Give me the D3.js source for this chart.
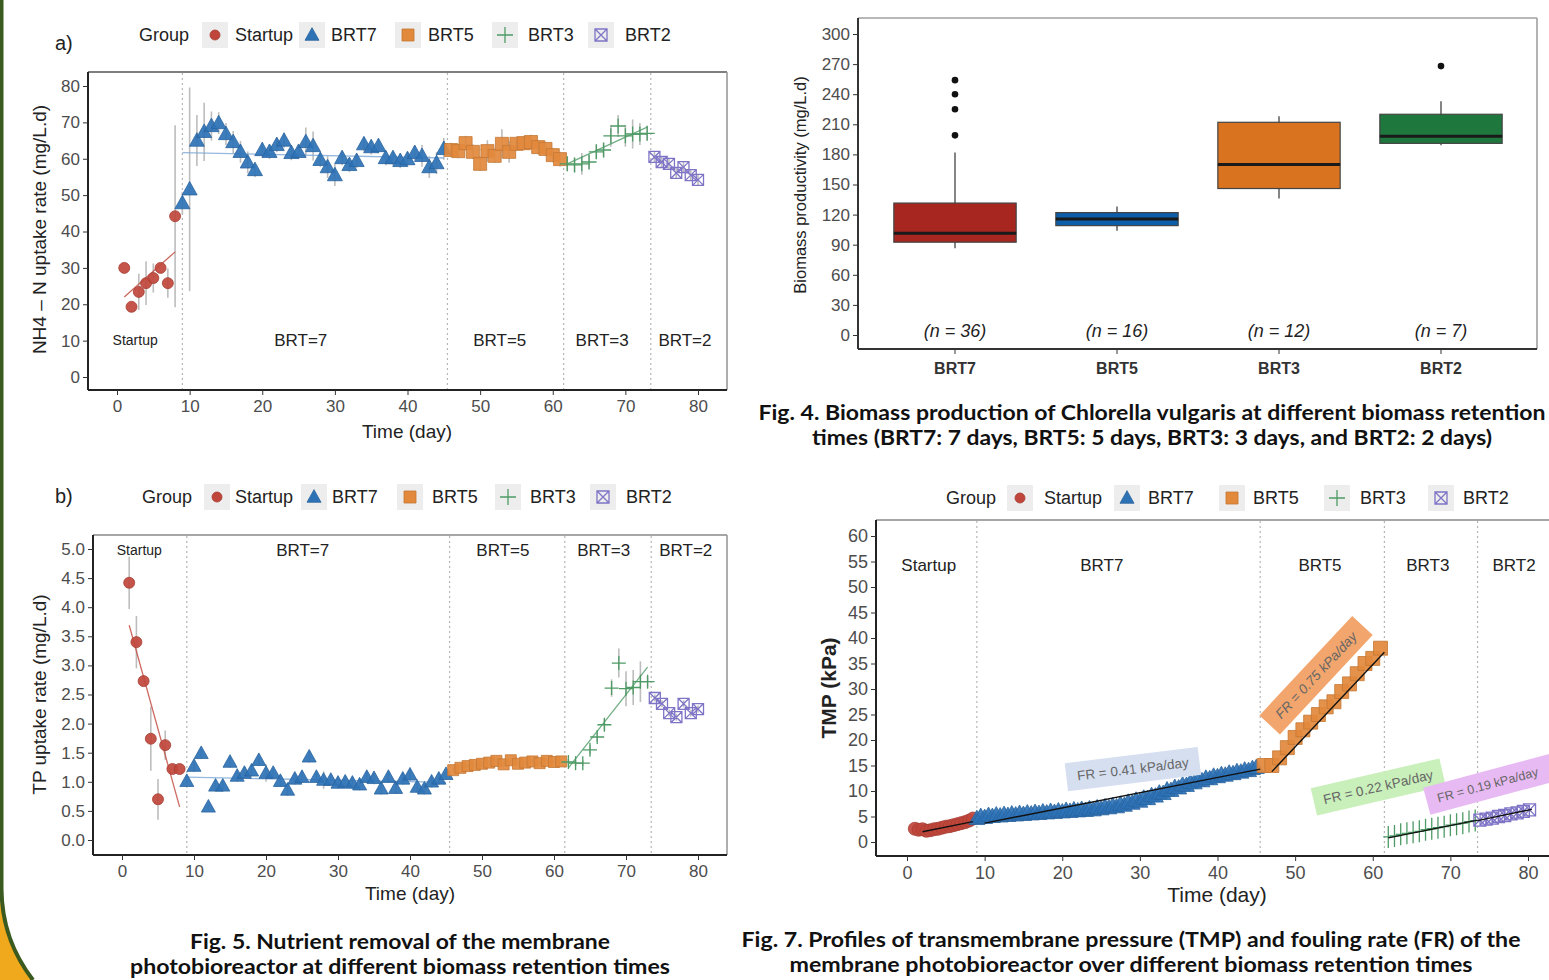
<!DOCTYPE html>
<html><head><meta charset="utf-8">
<script src="https://cdn.jsdelivr.net/npm/d3@7"></script>
<style>body{margin:0;background:#fff}svg{display:block}</style>
</head><body><svg id="c" width="1549" height="980"></svg>
<script>
// ---------------- DATA ----------------
const groups = ["Startup","BRT7","BRT5","BRT3","BRT2"];
const groupColors = ["#c0463b","#2e72b6","#e2893c","#4e9b66","#7e74c6"];
const groupShapes = ["circle","triangle","square","plus","boxx"];
const xTicks = [0,10,20,30,40,50,60,70,80];
const phaseBounds = [9,45.5,61.5,73.5];

// Panel a: NH4-N uptake rate
const aStartDay = [1,2,3,4,5,6,7,8];
const aStartVal = [30,19.3,23.4,25.8,27.2,30,25.8,44.2];
const aStartErr = [0,0,5,6,4,0,4,25];
const aB7Day = [9,10,11,12,13,14,15,16,17,18,19,20,21,22,23,24,25,26,27,28,29,30,31,32,33,34,35,36,37,38,39,40,41,42,43,44,45];
const aB7Val = [47.8,51.6,65,67.4,69,69.8,66.8,64.6,61.9,59,56.9,62.4,61.9,63.8,65,61.6,61.9,64.6,63.5,59.7,57.7,55.5,60.2,58.3,59.4,64,63.2,63.5,60.2,60.2,59.4,59.9,61.6,60.8,57.7,58.8,62.7];
const aB7Err = [3,28,7,8,4,3,3,3,3,3,2,2,2,2,2,2,2,4,4,2,3,3,2,2,2,2,2,2,2,2,2,2,2,3,3,3,3];
const aB5Day = [46,47,48,49,50,51,52,53,54,55,56,57,58,59,60,61];
const aB5Val = [62.4,62.1,64.3,61.9,58.6,62.1,60.8,64.1,61.9,64.1,64.3,64.6,63.2,62.7,61,59.9];
const aB5Err = [2,2,2,2,2,3,2,4,3,2,2,2,2,2,2,2];
const aB3Day = [62,63,64,65,66,67,68,69,70,71,72,73];
const aB3Val = [58.6,58.3,58.6,59.1,61.9,62.4,66.3,69,66.3,66.8,66.8,67];
const aB3Err = [2,2,3,2,2,2,3,3,3,4,3,2];
const aB2Day = [74,75,76,77,78,79,80];
const aB2Val = [60.5,59.1,58.6,56.1,57.7,55.5,54.2];
const aB2Err = [1.5,1.5,1.5,1.5,1.5,1.5,1.5];
const aFitStart = [[1,22],[8,34.4]];
const aFitB7 = [[9,61.7],[45,60.2]];
const aFitB5 = [[46,62.5],[61,62.5]];
const aFitB3 = [[62,58.6],[73,68.7]];
const aFitB2 = [[74,60.2],[80,54.6]];
const aYTicks = [0,10,20,30,40,50,60,70,80];

// Panel b: TP uptake rate
const bStartDay = [1,2,3,4,5,6,7,8];
const bStartVal = [4.42,3.40,2.73,1.74,0.70,1.63,1.22,1.22];
const bStartErr = [0.45,0.45,0,0.55,0.35,0.25,0,0];
const bB7Day = aB7Day;
const bB7Val = [1.01,1.27,1.49,0.57,0.93,0.93,1.34,1.10,1.15,1.19,1.37,1.15,1.15,1.01,0.86,1.05,1.08,1.43,1.08,1.03,1.03,0.98,1.00,0.98,0.95,1.08,1.06,0.88,1.08,0.89,1.05,1.12,0.91,0.88,1.00,1.05,1.13];
const bB7Err = [0.05,0.1,0.1,0.05,0.1,0.1,0.1,0.1,0.1,0.1,0.1,0.15,0.1,0.1,0.1,0.1,0.1,0.1,0.1,0.15,0.1,0.1,0.1,0.1,0.1,0.1,0.1,0.1,0.1,0.1,0.1,0.1,0.1,0.1,0.1,0.1,0.05];
const bB5Day = aB5Day;
const bB5Val = [1.20,1.24,1.27,1.29,1.31,1.33,1.36,1.30,1.37,1.31,1.33,1.35,1.32,1.36,1.34,1.35];
const bB5Err = [0.04,0.04,0.04,0.04,0.05,0.05,0.06,0.05,0.05,0.04,0.04,0.04,0.04,0.04,0.04,0.04];
const bB3Day = aB3Day;
const bB3Val = [1.34,1.32,1.32,1.55,1.77,1.98,2.61,3.04,2.60,2.62,2.72,2.72];
const bB3Err = [0.05,0.05,0.05,0.08,0.08,0.1,0.15,0.25,0.3,0.3,0.35,0.1];
const bB2Day = aB2Day;
const bB2Val = [2.44,2.34,2.18,2.11,2.34,2.18,2.25];
const bB2Err = [0.06,0.06,0.06,0.06,0.06,0.06,0.06];
const bFitStart = [[1,3.69],[8,0.57]];
const bFitB7 = [[9,1.08],[45,0.99]];
const bFitB5 = [[46,1.24],[61,1.36]];
const bFitB3 = [[62,1.24],[73,2.97]];
const bYTicks = [0,0.5,1,1.5,2,2.5,3,3.5,4,4.5,5];

// Fig 4: biomass productivity box plot
const boxCats = ["BRT7","BRT5","BRT3","BRT2"];
const boxLow = [86.5,104,136,189];
const boxQ1 = [92.5,109,146,191];
const boxMed = [101.5,115.5,170,198];
const boxQ3 = [131.5,122,212,220];
const boxHigh = [182,128,218,233];
const boxN = [36,16,12,7];
const boxOutliers = [[199,225,240,254],[],[],[268]];
const boxFill = ["#a72720","#0d5ea9","#d9731f","#1e773d"];
const boxYTicks = [0,30,60,90,120,150,180,210,240,270,300];

// Fig 7: TMP
const tStartDay = [1,1.5,2,2.5,3,3.5,4,4.5,5,5.5,6,6.5,7,7.5,8,8.5];
const tStartVal = [2.6,2.4,2.5,2.2,2.3,2.5,2.6,2.8,3.0,3.1,3.3,3.5,3.7,3.9,4.2,4.6];
const tB7Day = [9,9.5,10,10.5,11,11.5,12,12.5,13,13.5,14,14.5,15,15.5,16,16.5,17,17.5,18,18.5,19,19.5,20,20.5,21,21.5,22,22.5,23,23.5,24,24.5,25,25.5,26,26.5,27,27.5,28,28.5,29,29.5,30,30.5,31,31.5,32,32.5,33,33.5,34,34.5,35,35.5,36,36.5,37,37.5,38,38.5,39,39.5,40,40.5,41,41.5,42,42.5,43,43.5,44,44.5,45];
const tB7Val = [4.6,5.0,4.8,5.2,5.0,5.3,5.1,5.4,5.2,5.5,5.3,5.6,5.4,5.7,5.5,5.8,5.6,5.9,5.7,6.0,5.8,6.1,5.9,6.2,6.0,6.3,6.1,6.4,6.2,6.5,6.3,6.7,6.5,6.9,6.7,7.1,6.9,7.4,7.2,7.8,7.6,8.2,8.0,8.6,8.5,9.1,9.0,9.6,9.5,10.2,10.1,10.7,10.6,11.2,11.1,11.7,11.6,12.1,12.0,12.5,12.4,12.9,12.8,13.2,13.1,13.5,13.4,13.8,13.7,14.1,14.0,14.4,14.6];
const tB5Day = [46,47,48,49,50,51,52,53,54,55,56,57,58,59,60,61];
const tB5Val = [15,15,16.5,18.5,20.5,22,23.5,25,26.5,27.5,29.5,31,33,35,36,38];
const tB3Day = [62,62.8,63.6,64.4,65.2,66,66.8,67.6,68.4,69.2,70,70.8,71.6,72.4,73.2];
const tB3Val = [1.0,1.2,1.5,1.7,1.9,2.1,2.4,2.6,2.8,3.0,3.3,3.5,3.7,4.0,4.2];
const tB2Day = [73.8,74.6,75.4,76.2,77,77.8,78.6,79.4,80.2];
const tB2Val = [4.3,4.5,4.7,5.0,5.2,5.5,5.7,6.0,6.3];
const tFitStart = [[2,2.0],[8.5,4.0]];
const tFitB7 = [[10,3.7],[45.5,14.3]];
const tFitB5 = [[47,13.8],[61.5,37.2]];
const tFitB3 = [[62,0.8],[73.5,4.3]];
const tFitB2 = [[73.5,4.2],[80.5,6.4]];
const tYTicks = [0,5,10,15,20,25,30,35,40,45,50,55,60];
const frLabels = ["FR = 0.41 kPa/day","FR = 0.75 kPa/day","FR = 0.22 kPa/day","FR = 0.19 kPa/day"];
const frFill = ["#d5dff0","#f2a56c","#c9efba","#e8baf3"];

// ---------------- DRAWING ----------------
const svg = d3.select("#c");
const SANS = "'Liberation Sans', Arial, sans-serif";
const NARROW = "'Liberation Sans Narrow','Arial Narrow','Liberation Sans',Arial,sans-serif";
const TICKCOL = "#4d4d4d";

function shapePath(shape, s) {
  switch (shape) {
    case "circle": return `M${-s},0a${s},${s} 0 1,0 ${2*s},0a${s},${s} 0 1,0 ${-2*s},0Z`;
    case "triangle": return `M0,${-s*1.05}L${s},${s*0.75}L${-s},${s*0.75}Z`;
    case "square": return `M${-s},${-s}h${2*s}v${2*s}h${-2*s}Z`;
    case "plus": return `M${-s},0H${s}M0,${-s}V${s}`;
    case "boxx": return `M${-s},${-s}h${2*s}v${2*s}h${-2*s}ZM${-s},${-s}L${s},${s}M${s},${-s}L${-s},${s}`;
  }
}
function styleSym(sel, shape, color) {
  if (shape === "plus" || shape === "boxx") sel.attr("fill","none").attr("stroke",color).attr("stroke-width",1.3);
  else sel.attr("fill",color).attr("stroke",d3.color(color).darker(0.4)).attr("stroke-width",0.8);
}

function drawLegend(o) {
  const g = svg.append("g");
  g.append("text").attr("x",o.groupX).attr("y",o.y).attr("dy","0.35em")
    .attr("font-family",o.font).attr("font-size",o.fs).attr("fill","#222").text("Group");
  groups.forEach((name,i) => {
    g.append("rect").attr("x",o.keyX[i]-13).attr("y",o.y-13).attr("width",26).attr("height",26).attr("fill","#ededed");
    const sz = {circle:5,triangle:7,square:6,plus:8,boxx:6}[groupShapes[i]];
    const p = g.append("path").attr("d",shapePath(groupShapes[i],sz)).attr("transform",`translate(${o.keyX[i]},${o.y})`);
    styleSym(p, groupShapes[i], groupColors[i]);
    g.append("text").attr("x",o.labX[i]).attr("y",o.y).attr("dy","0.35em")
      .attr("font-family",o.font).attr("font-size",o.fs).attr("fill","#222").text(name);
  });
}

function drawTimePanel(c) {
  const g = svg.append("g");
  const x = d3.scaleLinear().domain([0,80]).range(c.xr);
  const y = d3.scaleLinear().domain(c.yd).range(c.yr);
  g.append("line").attr("x1",c.x0).attr("x2",c.x1).attr("y1",c.y0).attr("y2",c.y0).attr("stroke",c.topCol).attr("stroke-width",1.6);
  if (c.right) g.append("line").attr("x1",c.x1).attr("x2",c.x1).attr("y1",c.y0).attr("y2",c.y1).attr("stroke","#9a9a9a").attr("stroke-width",1.6);
  g.selectAll(".vl").data(phaseBounds).join("line")
    .attr("x1",d=>x(d)).attr("x2",d=>x(d)).attr("y1",c.y0+1).attr("y2",c.y1)
    .attr("stroke","#b5b5b5").attr("stroke-width",1.2).attr("stroke-dasharray","2,3");
  c.regions.forEach(r => g.append("text").attr("x",x(r[1])).attr("y",c.regionY).attr("dy","0.35em")
    .attr("text-anchor","middle").attr("font-family",c.font).attr("font-size",r[2]).attr("fill","#222").text(r[0]));
  c.series.forEach(s => {
    if (!s.err) return;
    const pts = s.days.map((d,i)=>({d,v:s.vals[i],e:s.err[i]})).filter(p=>p.e>0);
    g.selectAll(null).data(pts).join("line")
      .attr("x1",p=>x(p.d)).attr("x2",p=>x(p.d)).attr("y1",p=>y(p.v-p.e)).attr("y2",p=>y(p.v+p.e))
      .attr("stroke","#bdbdbd").attr("stroke-width",1.6);
  });
  c.fits.forEach(f => g.append("path").attr("d",d3.line().x(p=>x(p[0])).y(p=>y(p[1]))(f.pts))
    .attr("fill","none").attr("stroke",f.col).attr("stroke-width",f.w||1.3).attr("opacity",f.op||0.8));
  c.series.forEach(s => {
    const gi = groups.indexOf(s.group);
    const shape = groupShapes[gi];
    const pts = s.days.map((d,i)=>({d,v:s.vals[i]}));
    const sel = g.selectAll(null).data(pts).join("path")
      .attr("d", s.path || shapePath(shape, c.sizes[shape]))
      .attr("transform",p=>`translate(${x(p.d)},${y(p.v)})`);
    styleSym(sel, shape, groupColors[gi]);
    if (shape==="triangle" || shape==="circle" || shape==="square") sel.attr("fill-opacity",0.92);
  });
  (c.fitsTop||[]).forEach(f => g.append("path").attr("d",d3.line().x(p=>x(p[0])).y(p=>y(p[1]))(f))
    .attr("fill","none").attr("stroke","#111").attr("stroke-width",1.4));
  g.append("line").attr("x1",c.x0).attr("x2",c.x0).attr("y1",c.y0).attr("y2",c.y1).attr("stroke","#222").attr("stroke-width",2);
  g.append("line").attr("x1",c.x0).attr("x2",c.x1).attr("y1",c.y1).attr("y2",c.y1).attr("stroke","#222").attr("stroke-width",2);
  const xa = g.append("g").attr("transform",`translate(0,${c.y1})`)
    .call(d3.axisBottom(x).tickValues(xTicks).tickSize(5).tickPadding(5));
  const ya = g.append("g").attr("transform",`translate(${c.x0},0)`)
    .call(d3.axisLeft(y).tickValues(c.yTicks).tickSize(5).tickPadding(3).tickFormat(c.yFmt));
  [xa,ya].forEach(a => {
    a.select(".domain").remove();
    a.selectAll("line").attr("stroke","#333");
    a.selectAll("text").attr("font-family",c.font).attr("font-size",c.tickFs).attr("fill",TICKCOL);
  });
  g.append("text").attr("transform",`translate(${c.yTitleX},${(c.yr[0]+c.yr[1])/2+c.yTitleDy}) rotate(-90)`)
    .attr("text-anchor","middle").attr("font-family",c.font).attr("font-size",c.titleFs).attr("fill","#222")
    .attr("font-weight",c.yTitleW||"normal").text(c.yTitle);
  g.append("text").attr("x",c.xTitleX).attr("y",c.xTitleY).attr("text-anchor","middle")
    .attr("font-family",c.font).attr("font-size",c.titleFs).attr("fill","#222").text("Time (day)");
  return {g,x,y};
}

// left decorative border
svg.append("path").attr("d","M0,889 A150,150 0 0 0 32,980 L0,980 Z").attr("fill","#f0a81c");
svg.append("path").attr("d","M1.5,0 L1.5,889 A150,150 0 0 0 33,980").attr("fill","none").attr("stroke","#3b5a20").attr("stroke-width",4);

// ----- Panel a -----
svg.append("text").attr("x",55).attr("y",50).attr("font-family",SANS).attr("font-size",20).attr("fill","#222").text("a)");
drawLegend({y:35, groupX:139, keyX:[215,312,408,505,601], labX:[235,331,428,528,625], font:SANS, fs:18});
drawTimePanel({
  x0:88,x1:727,y0:72,y1:390, xr:[117,698], yd:[0,80], yr:[377,86], yTicks:aYTicks, yFmt:d3.format("d"),
  topCol:"#555", right:true, font:SANS, tickFs:17, titleFs:19,
  regionY:340, regions:[["Startup",2.5,14],["BRT=7",25.3,17],["BRT=5",52.7,17],["BRT=3",66.8,17],["BRT=2",78.2,17]],
  sizes:{circle:5.5,triangle:7.5,square:6.5,plus:7.5,boxx:5.5},
  series:[
    {group:"Startup",days:aStartDay,vals:aStartVal,err:aStartErr},
    {group:"BRT7",days:aB7Day,vals:aB7Val,err:aB7Err},
    {group:"BRT5",days:aB5Day,vals:aB5Val,err:aB5Err},
    {group:"BRT3",days:aB3Day,vals:aB3Val,err:aB3Err},
    {group:"BRT2",days:aB2Day,vals:aB2Val,err:aB2Err}],
  fits:[{pts:aFitStart,col:groupColors[0]},{pts:aFitB7,col:"#7aa6d6"},{pts:aFitB5,col:"#f0b47a",op:0.6},{pts:aFitB3,col:groupColors[3]},{pts:aFitB2,col:"#a9a2dc",op:0.5}],
  yTitle:"NH4 – N uptake rate (mg/L.d)", yTitleX:46, yTitleDy:-2, xTitleX:407, xTitleY:438
});

// ----- Panel b -----
svg.append("text").attr("x",55).attr("y",503).attr("font-family",SANS).attr("font-size",20).attr("fill","#222").text("b)");
drawLegend({y:497, groupX:142, keyX:[217,314,410,508,603], labX:[235,332,432,530,626], font:SANS, fs:18});
drawTimePanel({
  x0:93,x1:727,y0:535,y1:855, xr:[122,698], yd:[0,5], yr:[840,549], yTicks:bYTicks, yFmt:d3.format(".1f"),
  topCol:"#888", right:true, font:SANS, tickFs:17, titleFs:19,
  regionY:550, regions:[["Startup",2.4,14],["BRT=7",25.1,17],["BRT=5",52.9,17],["BRT=3",66.9,17],["BRT=2",78.3,17]],
  sizes:{circle:5.5,triangle:7,square:5.5,plus:7,boxx:5.5},
  series:[
    {group:"Startup",days:bStartDay,vals:bStartVal,err:bStartErr},
    {group:"BRT7",days:bB7Day,vals:bB7Val,err:bB7Err},
    {group:"BRT5",days:bB5Day,vals:bB5Val,err:bB5Err},
    {group:"BRT3",days:bB3Day,vals:bB3Val,err:bB3Err},
    {group:"BRT2",days:bB2Day,vals:bB2Val,err:bB2Err}],
  fits:[{pts:bFitStart,col:groupColors[0]},{pts:bFitB7,col:"#7aa6d6"},{pts:bFitB5,col:"#f0b47a",op:0.6},{pts:bFitB3,col:groupColors[3]}],
  yTitle:"TP uptake rate (mg/L.d)", yTitleX:46, yTitleDy:0, xTitleX:410, xTitleY:900
});

// ----- Fig 4 box plot -----
(function(){
  const g = svg.append("g");
  const x0=858,x1=1537,y0=18,y1=349;
  const y = d3.scaleLinear().domain([0,300]).range([335,34]);
  const xb = d3.scaleBand().domain(boxCats).range([874,1522]);
  const bw = xb.bandwidth()*0.755;
  g.append("line").attr("x1",x0).attr("x2",x1).attr("y1",y0).attr("y2",y0).attr("stroke","#a0a0a0").attr("stroke-width",1.6);
  g.append("line").attr("x1",x1).attr("x2",x1).attr("y1",y0).attr("y2",y1).attr("stroke","#a0a0a0").attr("stroke-width",1.6);
  const rows = boxCats.map((c,i)=>({c,i,lo:boxLow[i],q1:boxQ1[i],md:boxMed[i],q3:boxQ3[i],hi:boxHigh[i]}));
  const cx = d => xb(d.c)+xb.bandwidth()/2;
  g.selectAll(".wh").data(rows).join("line").attr("x1",cx).attr("x2",cx).attr("y1",d=>y(d.lo)).attr("y2",d=>y(d.hi)).attr("stroke","#333").attr("stroke-width",1.2);
  g.selectAll(".bx").data(rows).join("rect").attr("x",d=>cx(d)-bw/2).attr("width",bw)
    .attr("y",d=>y(d.q3)).attr("height",d=>y(d.q1)-y(d.q3)).attr("fill",d=>boxFill[d.i]).attr("stroke","#444").attr("stroke-width",1.2);
  g.selectAll(".md").data(rows).join("line").attr("x1",d=>cx(d)-bw/2).attr("x2",d=>cx(d)+bw/2).attr("y1",d=>y(d.md)).attr("y2",d=>y(d.md)).attr("stroke","#1a1a1a").attr("stroke-width",3);
  const outs = [];
  boxOutliers.forEach((arr,i)=>arr.forEach(v=>outs.push({c:boxCats[i],v})));
  g.selectAll(".out").data(outs).join("circle").attr("cx",cx).attr("cy",d=>y(d.v)).attr("r",3.3).attr("fill","#111");
  g.selectAll(".nl").data(rows).join("text").attr("x",cx).attr("y",331).attr("dy","0.35em").attr("text-anchor","middle")
    .attr("font-family",NARROW).attr("font-style","italic").attr("font-size",18).attr("fill","#222").text(d=>`(n = ${boxN[d.i]})`);
  g.append("line").attr("x1",x0).attr("x2",x0).attr("y1",y0).attr("y2",y1).attr("stroke","#333").attr("stroke-width",2);
  g.append("line").attr("x1",x0).attr("x2",x1).attr("y1",y1).attr("y2",y1).attr("stroke","#333").attr("stroke-width",2);
  const ya = g.append("g").attr("transform",`translate(${x0},0)`).call(d3.axisLeft(y).tickValues(boxYTicks).tickSize(5).tickPadding(3));
  const xa = g.append("g").attr("transform",`translate(0,${y1})`).call(d3.axisBottom(xb).tickSize(5).tickPadding(9));
  [xa,ya].forEach(a=>{a.select(".domain").remove();a.selectAll("line").attr("stroke","#333");});
  ya.selectAll("text").attr("font-family",NARROW).attr("font-size",17).attr("fill",TICKCOL);
  xa.selectAll("text").attr("font-family",NARROW).attr("font-size",16).attr("font-weight","bold").attr("fill","#333");
  g.append("text").attr("transform","translate(806,185) rotate(-90)").attr("text-anchor","middle")
    .attr("font-family",SANS).attr("font-size",16.5).attr("fill","#222").text("Biomass productivity (mg/L.d)");
})();

// ----- Fig 7 TMP -----
drawLegend({y:498, groupX:946, keyX:[1020,1127,1232,1337,1441], labX:[1044,1148,1253,1360,1463], font:NARROW, fs:18});
const tmp = drawTimePanel({
  x0:876,x1:1549,y0:520,y1:856, xr:[907,1528], yd:[0,60], yr:[842,536], yTicks:tYTicks, yFmt:d3.format("d"),
  topCol:"#888", right:false, font:NARROW, tickFs:18, titleFs:21,
  regionY:565, regions:[["Startup",2.8,17],["BRT7",25.1,17],["BRT5",53.2,17],["BRT3",67.1,17],["BRT2",78.2,17]],
  sizes:{circle:6.5,triangle:8,square:7,plus:6,boxx:6},
  series:[
    {group:"Startup",days:tStartDay,vals:tStartVal},
    {group:"BRT7",days:tB7Day,vals:tB7Val},
    {group:"BRT5",days:tB5Day,vals:tB5Val},
    {group:"BRT3",days:tB3Day,vals:tB3Val,path:"M-5,0H5M0,-11V11"},
    {group:"BRT2",days:tB2Day,vals:tB2Val}],
  fits:[], fitsTop:[tFitStart,tFitB7,tFitB5,tFitB3,tFitB2],
  yTitle:"TMP (kPa)", yTitleW:"bold", yTitleX:836, yTitleDy:-1, xTitleX:1217, xTitleY:902
});
// FR annotation boxes
const frLayout = [{d:29.1,v:14.3,a:-7,w:134,fs:13.5},{d:52.7,v:32.7,a:-47,w:136,fs:13.5},{d:60.7,v:10.8,a:-13,w:132,fs:13.5},{d:75.3,v:11.4,a:-15,w:134,fs:12.5}];
frLabels.forEach((t,i)=>{
  const L = frLayout[i];
  const gg = tmp.g.append("g").attr("transform",`translate(${tmp.x(L.d)},${tmp.y(L.v)}) rotate(${L.a})`);
  gg.append("rect").attr("x",-L.w/2).attr("y",-14).attr("width",L.w).attr("height",28).attr("fill",frFill[i]);
  gg.append("text").attr("text-anchor","middle").attr("dy","0.35em").attr("x",i===3?-4:0).attr("font-family",NARROW)
    .attr("font-size",L.fs).attr("fill","#666").attr("font-style",i===1?"italic":"normal").text(t);
});

// ----- Captions -----
function caption(txt,cx,y,len){
  svg.append("text").attr("x",cx).attr("y",y).attr("text-anchor","middle").attr("font-family","Lato, 'Noto Sans', sans-serif")
    .attr("font-weight","bold").attr("font-size",20).attr("fill","#111")
    .attr("textLength",len).attr("lengthAdjust","spacingAndGlyphs").text(txt);
}
caption("Fig. 4. Biomass production of Chlorella vulgaris at different biomass retention",1152,420,787);
caption("times (BRT7: 7 days, BRT5: 5 days, BRT3: 3 days, and BRT2: 2 days)",1152,445,680);
caption("Fig. 5. Nutrient removal of the membrane",400,949,420);
caption("photobioreactor at different biomass retention times",400,974,540);
caption("Fig. 7. Profiles of transmembrane pressure (TMP) and fouling rate (FR) of the",1131,947,779);
caption("membrane photobioreactor over different biomass retention times",1131,972,683);
</script></body></html>
